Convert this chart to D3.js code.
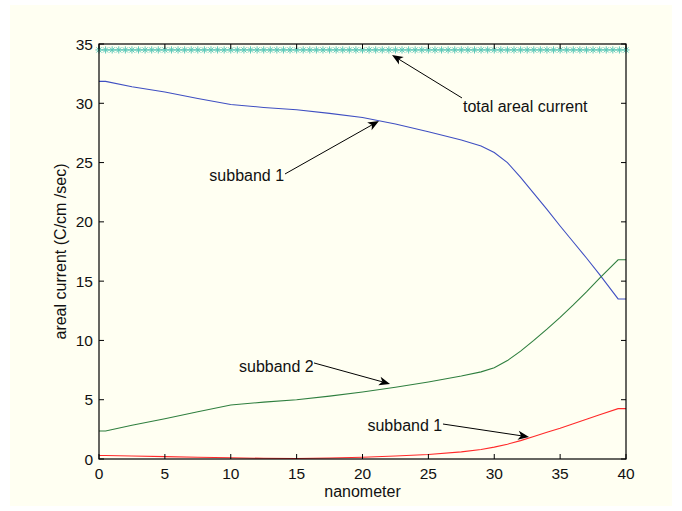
<!DOCTYPE html>
<html>
<head>
<meta charset="utf-8">
<script src="https://cdn.jsdelivr.net/npm/d3@7"></script>
<style>
  body { margin: 0; background: #ffffff; }
  text { font-family: "Liberation Sans", Arial, sans-serif; fill: #111; }
</style>
</head>
<body>
<div id="chart"></div>
<script>
// x positions (nanometer) shared by the three subband curves
const xs = [0, 0.5, 2.5, 5, 7.5, 10, 12.5, 15, 17.5, 20, 22.5, 25, 27.5, 29, 30, 31, 32, 33, 34, 35, 36, 37, 38, 39.4, 40];

// Curves
const subband1Upper = [31.85, 31.85, 31.4, 30.95, 30.4, 29.9, 29.65, 29.45, 29.15, 28.8, 28.25, 27.6, 26.9, 26.4, 25.85, 25.0, 23.75, 22.4, 21.05, 19.65, 18.3, 16.95, 15.55, 13.5, 13.5];
const subband2 = [2.36, 2.36, 2.85, 3.4, 3.98, 4.55, 4.8, 5.0, 5.3, 5.65, 6.05, 6.5, 7.0, 7.35, 7.7, 8.3, 9.1, 10.0, 10.95, 11.95, 13.0, 14.1, 15.25, 16.8, 16.8];
const subband1Lower = [0.3, 0.3, 0.25, 0.2, 0.15, 0.1, 0.06, 0.04, 0.08, 0.15, 0.25, 0.38, 0.6, 0.8, 1.0, 1.25, 1.55, 1.9, 2.25, 2.6, 2.98, 3.35, 3.73, 4.25, 4.25];

// Total areal current, sampled every half nanometer
const totalX = d3.range(0, 40.01, 0.5);
const totalY = totalX.map(() => 34.5);

// Tick labels
const xTicks = [0, 5, 10, 15, 20, 25, 30, 35, 40];
const yTicks = [0, 5, 10, 15, 20, 25, 30, 35];

// Annotations: label, text anchor point, arrow tail, arrow tip (data units)
const notes = [
  {label: 'total areal current', tx: 27.63, ty: 29.27, anchor: 'start', from: [27.55, 30.45], to: [22.24, 34.07]},
  {label: 'subband 1', tx: 14.05, ty: 23.45, anchor: 'end', from: [14.12, 24.04], to: [21.25, 28.51]},
  {label: 'subband 2', tx: 16.3, ty: 7.34, anchor: 'end', from: [16.32, 8.1], to: [22.09, 6.33]},
  {label: 'subband 1', tx: 26.05, ty: 2.36, anchor: 'end', from: [26.11, 2.95], to: [32.64, 1.86]}
];

const width = 682;
const height = 511;
const margin = {top: 44, right: 56, bottom: 52, left: 99};

const svg = d3.select('#chart')
  .append('svg')
  .attr('width', width)
  .attr('height', height);

// Figure background (cream panel inside a white border)
svg.append('rect')
  .attr('x', 10).attr('y', 5)
  .attr('width', width - 20).attr('height', height - 10)
  .style('fill', '#fffff2');

const x = d3.scaleLinear().domain([0, 40]).range([margin.left, width - margin.right]);
const y = d3.scaleLinear().domain([0, 35]).range([height - margin.bottom, margin.top]);

const line = d3.line()
  .x(d => x(d[0]))
  .y(d => y(d[1]));

// Curves
const series = [
  {vals: subband1Upper, color: '#3f4fc2'},
  {vals: subband2, color: '#2f7f3f'},
  {vals: subband1Lower, color: '#ff2a2a'}
];
series.forEach(s => {
  svg.append('path')
    .attr('d', line(xs.map((v, i) => [v, s.vals[i]])))
    .style('fill', 'none')
    .style('stroke', s.color)
    .style('stroke-width', 1.1);
});

// Total areal current: line + asterisk markers
const teal = '#5cc8b8';
const totalPts = totalX.map((v, i) => [v, totalY[i]]);
svg.append('path')
  .attr('d', line(totalPts))
  .style('fill', 'none')
  .style('stroke', teal)
  .style('stroke-width', 1);

const r = 3.6;
const rd = r * 0.72;
svg.append('g')
  .selectAll('path')
  .data(totalPts)
  .enter()
  .append('path')
  .attr('d', d => {
    const cx = x(d[0]);
    const cy = y(d[1]);
    return `M${cx - r},${cy}h${2 * r}M${cx},${cy - r}v${2 * r}` +
      `M${cx - rd},${cy - rd}l${2 * rd},${2 * rd}M${cx - rd},${cy + rd}l${2 * rd},${-2 * rd}`;
  })
  .style('stroke', teal)
  .style('stroke-width', 1)
  .style('fill', 'none');

// Axes box with inward ticks on all sides
const axisG = svg.append('g');
const x0 = x(0), x1 = x(40), y0 = y(0), y1 = y(35);
axisG.append('rect')
  .attr('x', x0).attr('y', y1)
  .attr('width', x1 - x0).attr('height', y0 - y1)
  .style('fill', 'none')
  .style('stroke', '#000')
  .style('stroke-width', 1.2);

const tl = 5;
xTicks.forEach(t => {
  axisG.append('path')
    .attr('d', `M${x(t)},${y0}v${-tl}M${x(t)},${y1}v${tl}`)
    .style('stroke', '#000');
  axisG.append('text')
    .text(t)
    .attr('x', x(t))
    .attr('y', y0 + 20)
    .style('text-anchor', 'middle')
    .style('font-size', '15.5px');
});
yTicks.forEach(t => {
  axisG.append('path')
    .attr('d', `M${x0},${y(t)}h${tl}M${x1},${y(t)}h${-tl}`)
    .style('stroke', '#000');
  axisG.append('text')
    .text(t)
    .attr('x', x0 - 6)
    .attr('y', y(t) + 5.5)
    .style('text-anchor', 'end')
    .style('font-size', '15.5px');
});

// Axis labels
svg.append('text')
  .text('nanometer')
  .attr('x', (x0 + x1) / 2)
  .attr('y', y0 + 38)
  .style('text-anchor', 'middle')
  .style('font-size', '16px');

svg.append('text')
  .text('areal current (C/cm /sec)')
  .attr('transform', `translate(66, ${(y0 + y1) / 2}) rotate(-90)`)
  .style('text-anchor', 'middle')
  .style('font-size', '16px');

// Annotations
const noteG = svg.append('g');
notes.forEach(n => {
  const fx = x(n.from[0]), fy = y(n.from[1]);
  const tx = x(n.to[0]), ty = y(n.to[1]);
  const ang = Math.atan2(ty - fy, tx - fx);
  const len = 11, half = 4.5, back = 3;
  const bx = tx - len * Math.cos(ang), by = ty - len * Math.sin(ang);
  const nx = -Math.sin(ang), ny = Math.cos(ang);
  const ix = tx - (len - back) * Math.cos(ang), iy = ty - (len - back) * Math.sin(ang);

  noteG.append('path')
    .attr('d', `M${fx},${fy}L${ix},${iy}`)
    .style('stroke', '#000')
    .style('stroke-width', 1);
  noteG.append('path')
    .attr('d', `M${tx},${ty}L${bx + nx * half},${by + ny * half}L${ix},${iy}L${bx - nx * half},${by - ny * half}Z`)
    .style('fill', '#000');
  noteG.append('text')
    .text(n.label)
    .attr('x', x(n.tx))
    .attr('y', y(n.ty))
    .style('text-anchor', n.anchor)
    .style('font-size', '16px');
});
</script>
</body>
</html>
